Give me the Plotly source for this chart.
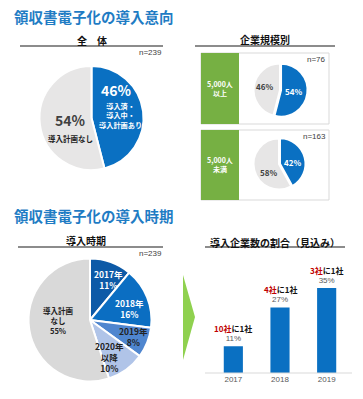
import plotly.graph_objects as go

W, H = 363, 399

# ---- data ----
intent_labels = ["導入済・導入中・導入計画あり", "導入計画なし"]
intent_all = [46, 54]
size_large = [54, 46]   # 5,000人以上
size_small = [42, 58]   # 5,000人未満
n_all, n_large, n_small = 239, 76, 163

timing_labels = ["2017年", "2018年", "2019年", "2020年以降", "導入計画なし"]
timing_values = [11, 16, 8, 10, 55]

bar_years = ["2017", "2018", "2019"]
bar_values = [11, 27, 35]
bar_ratio_red = ["10社", "4社", "3社"]

FONT = "Noto Sans CJK JP"
BLUE = "#0a70c2"
GRAY = "#e7e6e6"
TITLE = "#1f7cc4"
GREEN = "#76b043"

def px(x):
    return x / W

def py(y):
    return 1 - y / H

def dom(cx, cy, r):
    return dict(x=[px(cx - r), px(cx + r)], y=[py(cy + r), py(cy - r)])

fig = go.Figure()

# bar chart first
fig.add_trace(go.Bar(x=bar_years, y=bar_values, marker=dict(color=BLUE, line=dict(width=0)), width=0.41,
                     text=[f"{v}%" for v in bar_values], textposition="outside", cliponaxis=False,
                     textfont=dict(size=8, color="#595959", family="Liberation Sans"),
                     hoverinfo="skip", showlegend=False, xaxis="x", yaxis="y"))

def add_pie(values, colors, d, pull=None):
    fig.add_trace(go.Pie(values=values, sort=False, direction="clockwise", rotation=0,
                         marker=dict(colors=colors, line=dict(color="white", width=2)),
                         textinfo="none", hoverinfo="skip", showlegend=False,
                         domain=d, pull=pull))

add_pie(intent_all, [BLUE, GRAY], dom(91.5, 118, 52))
add_pie(size_large, [BLUE, GRAY], dom(280, 90, 27.5), pull=[0.04, 0])
add_pie(size_small, [BLUE, GRAY], dom(279, 164, 26.5), pull=[0.04, 0])
add_pie(timing_values, ["#0d5aa7", "#0b6ec2", "#4f86cf", "#b0c4e8", "#d9d9d9"], dom(90, 320, 61.5))

fig.update_layout(
    width=W, height=H, margin=dict(l=0, r=0, t=0, b=0),
    paper_bgcolor="white", plot_bgcolor="white",
    font=dict(family=FONT, size=9, color="#333333"),
    xaxis=dict(domain=[px(210), px(350)], showgrid=False, zeroline=False, showline=False,
               ticks="", tickfont=dict(size=8, color="#595959", family="Liberation Sans"),
               fixedrange=True, type="category", categoryorder="array", categoryarray=bar_years,
               range=[-0.5, 2.5], autorange=False),
    yaxis=dict(domain=[py(373), py(373 - 40 * 2.43)], range=[0, 40], autorange=False,
               visible=False, fixedrange=True),
)

shapes = []
annos = []

def text(x, y, s, size=9, color="#333333", bold=True, xanchor="center", family=FONT):
    t = f"<b>{s}</b>" if bold else s
    annos.append(dict(x=px(x), y=py(y), xref="paper", yref="paper", text=t, showarrow=False,
                      xanchor=xanchor, yanchor="middle", font=dict(size=size, color=color, family=family),
                      align="center", borderpad=0))

def hline(x0, x1, y, color="#8c8c8c", w=2):
    shapes.append(dict(type="line", xref="paper", yref="paper", x0=px(x0), x1=px(x1), y0=py(y), y1=py(y),
                       line=dict(color=color, width=w)))

def rect(x0, y0, x1, y1, fill=None, line=None):
    shapes.append(dict(type="rect", xref="paper", yref="paper", x0=px(x0), x1=px(x1), y0=py(y1), y1=py(y0),
                       fillcolor=fill or "rgba(0,0,0,0)", line=dict(color=line or "rgba(0,0,0,0)", width=1),
                       layer="below"))

# titles
text(13, 16, "領収書電子化の導入意向", size=14.5, color=TITLE, xanchor="left")
text(13, 215, "領収書電子化の導入時期", size=14.5, color=TITLE, xanchor="left")

# section headers
text(92, 40, "全　体", size=10, color="#111111")
hline(20, 163, 46)
text(163, 52, f"n={n_all}", size=8, color="#404040", bold=False, xanchor="right", family="Liberation Sans")

text(265, 39, "企業規模別", size=10, color="#111111")
hline(195, 335, 46)

text(86, 240, "導入時期", size=10, color="#111111")
hline(18, 163, 247)
text(163, 253, f"n={n_all}", size=8, color="#404040", bold=False, xanchor="right", family="Liberation Sans")

text(275, 242, "導入企業数の割合（見込み）", size=10, color="#111111")
hline(205, 345, 247)

# size boxes
rect(201, 53, 329, 124, line="#d9d9d9")
rect(201, 53, 239, 124, fill=GREEN)
text(220, 89, "5,000人<br>以上", size=7, color="white")
text(327, 59, f"n={n_large}", size=8, color="#404040", bold=False, xanchor="right", family="Liberation Sans")

rect(201, 130, 329, 200, line="#d9d9d9")
rect(201, 130, 239, 200, fill=GREEN)
text(220, 165, "5,000人<br>未満", size=7, color="white")
text(327, 137, f"n={n_small}", size=8, color="#404040", bold=False, xanchor="right", family="Liberation Sans")

# pie 1 labels
text(116, 90, f"{intent_all[0]}%", size=14, color="white")
text(120, 115, "導入済・<br>導入中・<br>導入計画あり", size=7.2, color="white")
text(70, 120, f"{intent_all[1]}%", size=14, color="#404040")
text(70, 138, "導入計画なし", size=7.5, color="#222222")

# pie 2/3 labels
text(293, 91, f"{size_large[0]}%", size=8, color="white")
text(264, 86, f"{size_large[1]}%", size=8, color="#404040")
text(292, 162, f"{size_small[0]}%", size=8, color="white")
text(268, 173, f"{size_small[1]}%", size=8, color="#404040")

# pie 4 labels
text(108, 279, f"{timing_labels[0]}<br>{timing_values[0]}%", size=8.5, color="white")
text(129, 308, f"{timing_labels[1]}<br>{timing_values[1]}%", size=8.5, color="white")
text(133, 336, f"{timing_labels[2]}<br>{timing_values[2]}%", size=8.5, color="#222222")
text(109, 357, "2020年<br>以降<br>10%", size=8.5, color="#222222")
text(58, 320, "導入計画<br>なし<br>55%", size=7.5, color="#222222")

# arrow
shapes.append(dict(type="path", xref="paper", yref="paper",
                   path=f"M {px(183)},{py(275)} L {px(195)},{py(317)} L {px(183)},{py(360)} Z",
                   fillcolor="#8fd14f", line=dict(width=0)))

# bar baseline
hline(205, 352, 373, color="#d9d9d9", w=1)

# ratio labels above the bars (x given as category index)
for i, (v, red) in enumerate(zip(bar_values, bar_ratio_red)):
    annos.append(dict(x=i, y=v, xref="x", yref="y",
                      text=f"<b><span style='color:#c00000'>{red}</span>に1社</b>", showarrow=False,
                      yanchor="bottom", yshift=10, font=dict(size=8, color="#111111", family=FONT)))

fig.update_layout(shapes=shapes, annotations=annos)
fig.write_html("out.html", config={"displayModeBar": False},
               post_script="document.body.style.margin='0';document.body.style.overflow='hidden';")
